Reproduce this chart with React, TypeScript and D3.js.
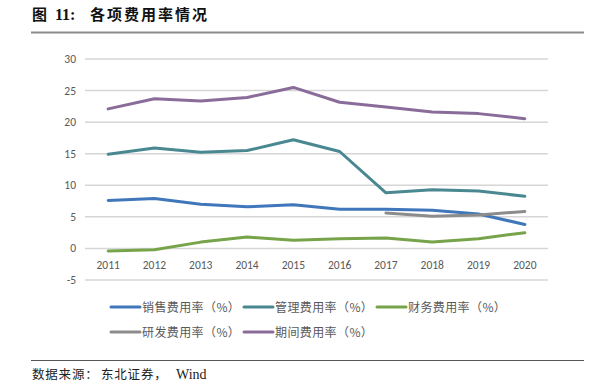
import React from "react";
import * as d3 from "d3";

const years = ["2011", "2012", "2013", "2014", "2015", "2016", "2017", "2018", "2019", "2020"];
const sales = [7.6, 7.9, 7.0, 6.6, 6.9, 6.2, 6.2, 6.05, 5.45, 3.8];
const admin = [14.9, 15.9, 15.25, 15.5, 17.2, 15.35, 8.8, 9.3, 9.1, 8.25];
const finance = [-0.4, -0.2, 1.0, 1.8, 1.3, 1.55, 1.65, 1.0, 1.55, 2.5];
const rnd: (number | null)[] = [null, null, null, null, null, null, 5.6, 5.1, 5.3, 5.85];
const period = [22.1, 23.7, 23.35, 23.9, 25.5, 23.15, 22.4, 21.6, 21.35, 20.55];
const yTicks = [-5, 0, 5, 10, 15, 20, 25, 30];

const seriesNames = ["销售费用率（%）", "管理费用率（%）", "财务费用率（%）", "研发费用率（%）", "期间费用率（%）"];
const seriesColors = ["#3F77BA", "#4A8891", "#77A44A", "#8C8C8C", "#8A6C9A"];
const seriesData: (number | null)[][] = [sales, admin, finance, rnd, period];

export default function App() {
  const W = 601, H = 388;
  const x = d3.scaleBand<string>().domain(years).range([85, 548]);
  const y = d3.scaleLinear().domain([-5, 30]).range([280, 59]);
  const line = d3
    .line<number | null>()
    .defined((d) => d !== null)
    .x((_, i) => (x(years[i]) as number) + x.bandwidth() / 2)
    .y((d) => y(d as number));
  const font = "Calibri, Carlito, 'Noto Sans CJK SC', 'Noto Sans', sans-serif";
  const cjk = "'Noto Sans CJK SC', sans-serif";
  const legendPos = [
    [111, 307], [244, 307], [377, 307], [111, 332], [244, 332],
  ];
  return (
    <svg width={W} height={H} style={{ position: "absolute", left: 0, top: 0 }}>
      <rect width={W} height={H} fill="#fff" />
      <text y={20} fontSize={15} fontWeight="bold" fontFamily={cjk} fill="#111">
        <tspan x={32}>图</tspan>
        <tspan x={55} fontFamily="'Liberation Serif', serif" fontSize={16}>11:</tspan>
        <tspan x={90} letterSpacing={2}>各项费用率情况</tspan>
      </text>
      <line x1={31} x2={584} y1={32.5} y2={32.5} stroke="#8c8c8c" strokeWidth={2} />
      {yTicks.map((t) => (
        <g key={t}>
          <line x1={85} x2={548} y1={y(t)} y2={y(t)} stroke="#d6d6d6" strokeWidth={1.5} />
          <text x={76} y={y(t) + 4} textAnchor="end" fontSize={11.5} fill="#595959" fontFamily={font}>
            {t}
          </text>
        </g>
      ))}
      {years.map((yr) => (
        <text key={yr} x={(x(yr) as number) + x.bandwidth() / 2} y={269} textAnchor="middle" fontSize={11.5} fill="#595959" fontFamily={font}>
          {yr}
        </text>
      ))}
      {seriesData.map((s, i) => (
        <path key={i} d={line(s) || ""} fill="none" stroke={seriesColors[i]} strokeWidth={3} strokeLinejoin="round" strokeLinecap="round" />
      ))}
      {seriesNames.map((n, i) => (
        <g key={n}>
          <line x1={legendPos[i][0]} x2={legendPos[i][0] + 29} y1={legendPos[i][1]} y2={legendPos[i][1]} stroke={seriesColors[i]} strokeWidth={3} strokeLinecap="round" />
          <text x={legendPos[i][0] + 31} y={legendPos[i][1] + 4.5} fontSize={12} letterSpacing={0.4} fill="#595959" fontFamily={cjk}>
            {n}
          </text>
        </g>
      ))}
      <line x1={31} x2={584} y1={360.5} y2={360.5} stroke="#555" strokeWidth={1} />
      <text y={379} fontSize={12.5} fill="#222" fontFamily={cjk}>
        <tspan x={32} letterSpacing={0.8}>数据来源：</tspan>
        <tspan x={101} letterSpacing={0.8}>东北证券，</tspan>
        <tspan x={176} fontFamily="'Liberation Serif', serif" fontSize={14}>Wind</tspan>
      </text>
    </svg>
  );
}
